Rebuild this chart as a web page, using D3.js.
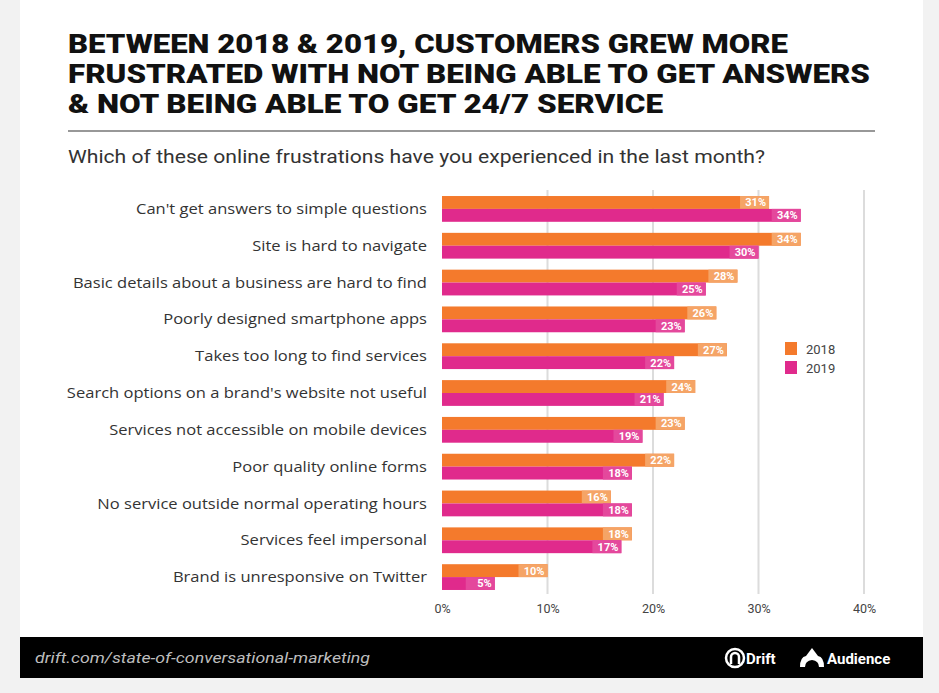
<!DOCTYPE html>
<html><head><meta charset="utf-8">
<script src="https://cdn.jsdelivr.net/npm/d3@7"></script>
<style>
html,body{margin:0;padding:0;background:#f2f2f2;}
svg{display:block;}
</style></head>
<body>
<svg id="chart" width="939" height="693"></svg>
<script>
const categories = [
  "Can't get answers to simple questions",
  "Site is hard to navigate",
  "Basic details about a business are hard to find",
  "Poorly designed smartphone apps",
  "Takes too long to find services",
  "Search options on a brand's website not useful",
  "Services not accessible on mobile devices",
  "Poor quality online forms",
  "No service outside normal operating hours",
  "Services feel impersonal",
  "Brand is unresponsive on Twitter"
];
const series2018 = [31, 34, 28, 26, 27, 24, 23, 22, 16, 18, 10];
const series2019 = [34, 30, 25, 23, 22, 21, 19, 18, 18, 17, 5];
const seriesNames = ["2018", "2019"];
const xTicks = [0, 10, 20, 30, 40];
const titleLines = [
  "BETWEEN 2018 & 2019, CUSTOMERS GREW MORE",
  "FRUSTRATED WITH NOT BEING ABLE TO GET ANSWERS",
  "& NOT BEING ABLE TO GET 24/7 SERVICE"
];
const subtitle = "Which of these online frustrations have you experienced in the last month?";
const sourceText = "drift.com/state-of-conversational-marketing";

const colors = {"2018": "#F47A2C", "2019": "#E02A8C"};
const labelBg = {"2018": "#F5A466", "2019": "#E4489C"};

const svg = d3.select("#chart");

// card
svg.append("rect").attr("x", 20).attr("y", 0).attr("width", 903).attr("height", 678).attr("fill", "#ffffff");

// title
const title = svg.append("g");
const titleWidths = [720, 802, 595];
titleLines.forEach((t, i) => {
  title.append("text")
    .attr("x", 68).attr("y", 53 + i * 30)
    .attr("font-family", "Roboto, 'Open Sans', sans-serif")
    .attr("font-weight", 900)
    .attr("font-size", 25)
    .attr("fill", "#111")
    .attr("textLength", titleWidths[i])
    .attr("lengthAdjust", "spacingAndGlyphs")
    .text(t);
});
svg.append("line").attr("x1", 68).attr("x2", 875).attr("y1", 131).attr("y2", 131)
  .attr("stroke", "#333").attr("stroke-width", 1.2);
svg.append("text").attr("x", 68).attr("y", 163)
  .attr("font-family", "Roboto, 'Open Sans', sans-serif")
  .attr("font-size", 17.5).attr("fill", "#333")
  .attr("textLength", 697).attr("lengthAdjust", "spacingAndGlyphs")
  .text(subtitle);

// scales
const x = d3.scaleLinear().domain([0, 40]).range([442, 864]);
const y0 = d3.scaleBand().domain(categories).range([190.5, 595.5]).paddingInner(0.3).paddingOuter(0.15);
const y1 = d3.scaleBand().domain(seriesNames).range([0, y0.bandwidth()]);

// gridlines
svg.append("g").selectAll("line").data(xTicks.slice(1)).join("line")
  .attr("x1", d => x(d)).attr("x2", d => x(d))
  .attr("y1", 190).attr("y2", 594)
  .attr("stroke", "#dcdcdc").attr("stroke-width", 2);

// axis
const axis = d3.axisBottom(x).tickValues(xTicks).tickFormat(d => d + "%").tickSize(0).tickPadding(0);
const ax = svg.append("g").attr("transform", "translate(0,604)").call(axis);
ax.select(".domain").remove();
ax.selectAll("text").attr("font-family", "Roboto, 'Open Sans', sans-serif")
  .attr("font-size", 12.5).attr("fill", "#444").attr("dy", "0.71em");

// category labels
const catLabels = svg.append("g").selectAll("text").data(categories).join("text")
  .attr("x", 427).attr("y", d => y0(d) + y0.bandwidth() / 2)
  .attr("dy", "0.35em").attr("text-anchor", "end")
  .attr("font-family", "'Open Sans', Roboto, sans-serif")
  .attr("font-size", 14.5).attr("fill", "#333")
  .text(d => d);
catLabels.each(function() {
  const w = this.getComputedTextLength();
  d3.select(this).attr("textLength", w * 1.14).attr("lengthAdjust", "spacingAndGlyphs");
});

// bars
const rows = categories.map((c, i) => ({c, vals: [
  {s: "2018", v: series2018[i]}, {s: "2019", v: series2019[i]}]}));
const grp = svg.append("g").selectAll("g").data(rows).join("g")
  .attr("transform", d => `translate(0,${y0(d.c)})`);
const bar = grp.selectAll("g").data(d => d.vals).join("g");
bar.append("rect")
  .attr("x", x(0)).attr("y", d => y1(d.s))
  .attr("width", d => x(d.v) - x(0)).attr("height", y1.bandwidth())
  .attr("fill", d => colors[d.s]);
bar.append("rect")
  .attr("x", d => x(d.v) - 29).attr("y", d => y1(d.s))
  .attr("width", 29).attr("height", y1.bandwidth())
  .attr("fill", d => labelBg[d.s]);
bar.append("text")
  .attr("x", d => x(d.v) - 3).attr("y", d => y1(d.s) + y1.bandwidth() / 2)
  .attr("dy", "0.36em").attr("text-anchor", "end")
  .attr("font-family", "Roboto, 'Open Sans', sans-serif")
  .attr("font-size", 11).attr("font-weight", 700).attr("fill", "#fff")
  .text(d => d.v + "%");

// legend
const leg = svg.append("g").selectAll("g").data(seriesNames).join("g")
  .attr("transform", (d, i) => `translate(785,${342 + i * 19})`);
leg.append("rect").attr("width", 12).attr("height", 13).attr("fill", d => colors[d]);
leg.append("text").attr("x", 21).attr("y", 7).attr("dy", "0.35em")
  .attr("font-family", "Roboto, 'Open Sans', sans-serif")
  .attr("font-size", 13).attr("fill", "#444").text(d => d);

// footer
svg.append("rect").attr("x", 20).attr("y", 637).attr("width", 903).attr("height", 41).attr("fill", "#000");
svg.append("text").attr("x", 35).attr("y", 663)
  .attr("font-family", "Roboto, 'Open Sans', sans-serif")
  .attr("font-style", "italic").attr("font-size", 14).attr("fill", "#bdbdbd")
  .attr("textLength", 335).attr("lengthAdjust", "spacingAndGlyphs")
  .text(sourceText);
// Drift logo
const drift = svg.append("g").attr("transform", "translate(735,658)");
drift.append("circle").attr("r", 9).attr("fill", "none").attr("stroke", "#fff").attr("stroke-width", 2.5);
drift.append("path").attr("d", "M-4,6 L-4,-1 A4,4 0 0 1 4,-1 L4,6").attr("fill", "none").attr("stroke", "#fff").attr("stroke-width", 2.5);
svg.append("text").attr("x", 746).attr("y", 664)
  .attr("font-family", "Roboto, sans-serif").attr("font-weight", 700)
  .attr("font-size", 15).attr("fill", "#fff").text("Drift");
// Audience logo
svg.append("path").attr("d", "M800,667 Q800,657 806,656 L812,648 L818,656 Q824,657 824,667 L819,667 Q819,661 812,660 Q805,661 805,667 Z")
  .attr("fill", "#fff");
svg.append("text").attr("x", 827).attr("y", 664)
  .attr("font-family", "Roboto, sans-serif").attr("font-weight", 700)
  .attr("font-size", 15).attr("fill", "#fff").text("Audience");
</script>
</body></html>
